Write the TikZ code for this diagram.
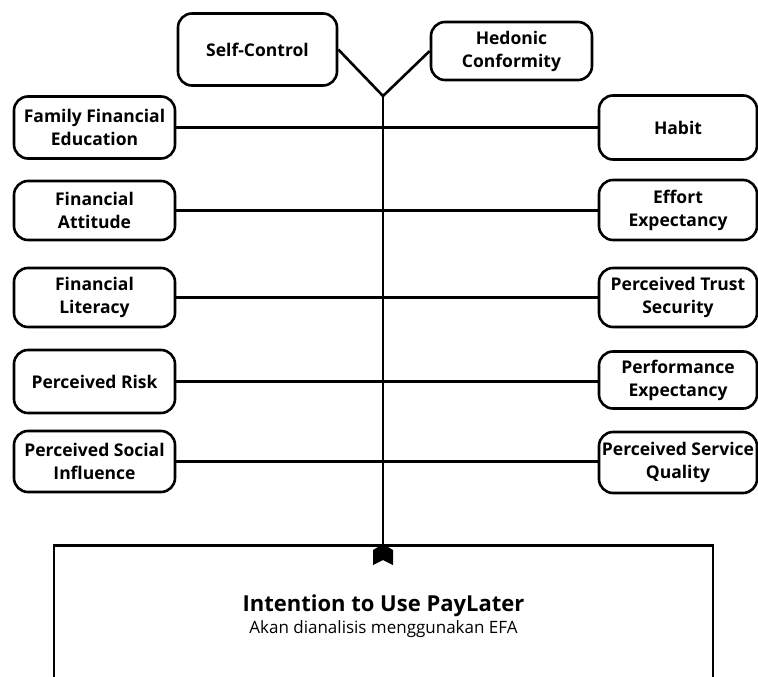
\documentclass[tikz,border=0pt]{standalone}
\usepackage{fontspec}
\setmainfont{Open Sans}
\begin{document}
\begin{tikzpicture}[x=1pt,y=-1pt,
  fbox/.style={draw=black, line width=2.6pt, rounded corners=14pt, fill=white,
    align=center, inner sep=0pt, font=\fontsize{17.5}{23}\selectfont\bfseries},
  conn/.style={line width=2.6pt, black},
  bigbox/.style={draw=black, line width=2.6pt, fill=white, align=center, inner sep=0pt,
    minimum width=659pt, minimum height=142pt, anchor=north}]
\useasboundingbox (0,0) rectangle (758,677);
\clip (0,0) rectangle (758,677);
% top
\node[fbox, minimum width=159pt, minimum height=72pt] (sc) at (257.5,49.5) {Self-Control};
\node[fbox, minimum width=161pt, minimum height=58pt] (hc) at (511.5,51) {Hedonic\\Conformity};
\coordinate (j) at (383,96);
% left column
\node[fbox, minimum width=161pt, minimum height=62pt] (l1) at (94.5,127.5) {Family Financial\\Education};
\node[fbox, minimum width=161pt, minimum height=59pt] (l2) at (94.5,210.5) {Financial\\Attitude};
\node[fbox, minimum width=161pt, minimum height=59pt] (l3) at (94.5,297.5) {Financial\\Literacy};
\node[fbox, minimum width=161pt, minimum height=63pt] (l4) at (94.5,381.5) {Perceived Risk};
\node[fbox, minimum width=161pt, minimum height=61pt] (l5) at (94.5,461.5) {Perceived Social\\Influence};
% right column
\node[fbox, minimum width=158pt, minimum height=64pt] (r1) at (678,127.5) {Habit};
\node[fbox, minimum width=158pt, minimum height=60pt] (r2) at (678,210) {Effort\\Expectancy};
\node[fbox, minimum width=158pt, minimum height=59pt] (r3) at (678,297.5) {Perceived Trust\\Security};
\node[fbox, minimum width=158pt, minimum height=57pt] (r4) at (678,380) {Performance\\Expectancy};
\node[fbox, minimum width=158pt, minimum height=61pt] (r5) at (678,462.5) {Perceived Service\\Quality};
% bottom box
\node[bigbox] (ip) at (383.5,544) {{\fontsize{22}{24}\selectfont\bfseries Intention to Use PayLater}\\[3pt]{\fontsize{17}{22}\selectfont Akan dianalisis menggunakan EFA}};
% connectors
\draw[conn] (sc.east) -- (j);
\draw[conn] (hc.west) -- (j);
\foreach \a/\b in {l1/r1,l2/r2,l3/r3,l4/r4,l5/r5}{
  \draw[conn] (\a.east) -- (\a.east -| \b.west);
}
\draw[conn] (j) -- (j |- ip.north);
\fill[black] ([xshift=-10pt,yshift=-21pt]j |- ip.north) -- ([yshift=-16pt]j |- ip.north)
  -- ([xshift=10pt,yshift=-21pt]j |- ip.north) -- ([xshift=10pt,yshift=-6pt]j |- ip.north)
  -- (j |- ip.north) -- ([xshift=-10pt,yshift=-6pt]j |- ip.north) -- cycle;
\end{tikzpicture}
\end{document}
